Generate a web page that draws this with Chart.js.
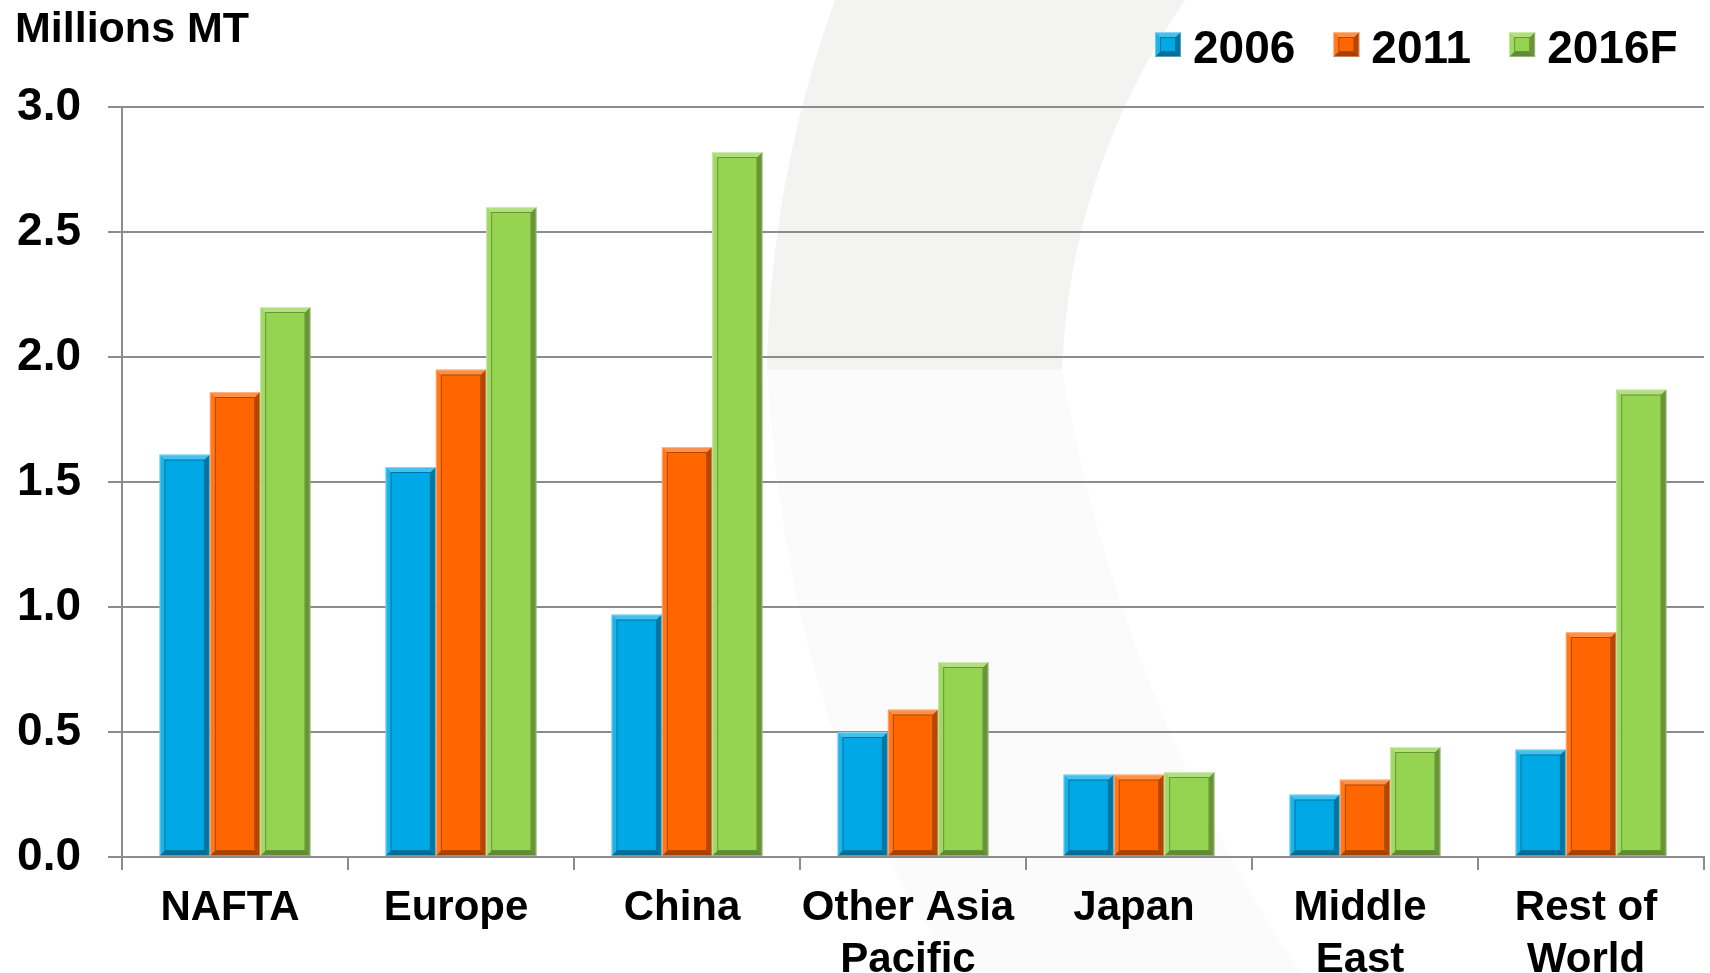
<!DOCTYPE html>
<html>
<head>
<meta charset="utf-8">
<script src="https://cdn.jsdelivr.net/npm/chart.js@4.4.0/dist/chart.umd.min.js"></script>
<style>
  html, body { margin: 0; padding: 0; background: #fff; }
  #wrap { width: 1710px; height: 973px; }
</style>
</head>
<body>
<div id="wrap"><canvas id="regionChart" width="1710" height="973"></canvas></div>
<script>
// data (millions of metric tons)
const regions = [['NAFTA'], ['Europe'], ['China'], ['Other Asia', 'Pacific'], ['Japan'], ['Middle', 'East'], ['Rest of', 'World']];
const seriesNames = ['2006', '2011', '2016F'];
const values2006 = [1.61, 1.56, 0.97, 0.50, 0.33, 0.25, 0.43];
const values2011 = [1.86, 1.95, 1.64, 0.59, 0.33, 0.31, 0.90];
const values2016F = [2.20, 2.60, 2.82, 0.78, 0.34, 0.44, 1.87];
const yTickValues = [0, 0.5, 1.0, 1.5, 2.0, 2.5, 3.0];
const unitLabel = 'Millions MT';

const FONT = '"Liberation Sans", Arial, Helvetica, sans-serif';
const gridColor = '#8c8c8c';

Chart.defaults.font.family = FONT;

function poly(ctx, pts, fill) {
    ctx.beginPath();
    ctx.moveTo(pts[0][0], pts[0][1]);
    for (let i = 1; i < pts.length; i++) ctx.lineTo(pts[i][0], pts[i][1]);
    ctx.closePath();
    ctx.fillStyle = fill;
    ctx.fill();
}

// fake the bevelled look of the original bars
function drawBevel(ctx, l, t, r, b, d) {
    if (b - t < 2 * d + 2) return;
    poly(ctx, [[l, t], [r, t], [r - d, t + d], [l + d, t + d]], 'rgba(255,255,255,0.28)');
    poly(ctx, [[l, t], [l + d, t + d], [l + d, b - d], [l, b]], 'rgba(255,255,255,0.12)');
    poly(ctx, [[r, t], [r, b], [r - d, b - d], [r - d, t + d]], 'rgba(0,0,0,0.30)');
    poly(ctx, [[l, b], [r, b], [r - d, b - d], [l + d, b - d]], 'rgba(0,0,0,0.35)');
    ctx.lineWidth = 1;
    ctx.strokeStyle = 'rgba(0,0,0,0.30)';
    ctx.strokeRect(l + d + 0.5, t + d + 0.5, r - l - 2 * d - 1, b - t - 2 * d - 1);
    ctx.strokeStyle = 'rgba(255,255,255,0.35)';
    ctx.strokeRect(l + 0.5, t + 0.5, r - l - 1, b - t - 1);
}

const backdrop = {
    id: 'backdrop',
    beforeDraw(chart) {
        const ctx = chart.ctx;
        ctx.save();
        ctx.fillStyle = '#fff';
        ctx.fillRect(0, 0, chart.width, chart.height);
        // faint swoosh watermark
        ctx.beginPath();
        ctx.moveTo(767, 370);
        ctx.quadraticCurveTo(790, 750, 960, 973);
        ctx.lineTo(1300, 973);
        ctx.quadraticCurveTo(1120, 700, 1062, 370);
        ctx.closePath();
        ctx.fillStyle = '#fbfbfb';
        ctx.fill();
        ctx.beginPath();
        ctx.moveTo(835, 0);
        ctx.quadraticCurveTo(770, 180, 767, 370);
        ctx.lineTo(1062, 370);
        ctx.quadraticCurveTo(1070, 170, 1185, 0);
        ctx.closePath();
        ctx.fillStyle = '#f3f3f2';
        ctx.fill();
        ctx.restore();
    }
};

const bevels = {
    id: 'bevels',
    afterDatasetsDraw(chart) {
        const ctx = chart.ctx;
        ctx.save();
        chart.data.datasets.forEach((ds, i) => {
            chart.getDatasetMeta(i).data.forEach(bar => {
                const p = bar.getProps(['x', 'y', 'base', 'width'], true);
                drawBevel(ctx, p.x - p.width / 2, p.y, p.x + p.width / 2, p.base, 5);
            });
        });
        ctx.restore();
    }
};

const headerLegend = {
    id: 'headerLegend',
    afterDraw(chart) {
        const ctx = chart.ctx;
        ctx.save();
        ctx.fillStyle = '#000';
        ctx.textAlign = 'left';
        ctx.textBaseline = 'alphabetic';
        ctx.font = 'bold 43px ' + FONT;
        ctx.fillText(unitLabel, 15, 42);

        ctx.font = 'bold 46px ' + FONT;
        let x = 1155;
        chart.data.datasets.forEach(ds => {
            ctx.fillStyle = ds.backgroundColor;
            ctx.fillRect(x, 32, 26, 25);
            drawBevel(ctx, x, 32, x + 26, 57, 5);
            ctx.fillStyle = '#000';
            ctx.fillText(ds.label, x + 38, 63);
            x += 38 + ctx.measureText(ds.label).width + 38;
        });
        ctx.restore();
    }
};

new Chart(document.getElementById('regionChart').getContext('2d'), {
    type: 'bar',
    data: {
        labels: regions,
        datasets: [
            { label: seriesNames[0], data: values2006, backgroundColor: '#00a8e6' },
            { label: seriesNames[1], data: values2011, backgroundColor: '#ff6600' },
            { label: seriesNames[2], data: values2016F, backgroundColor: '#95d450' }
        ]
    },
    options: {
        responsive: false,
        animation: false,
        devicePixelRatio: 1,
        layout: { padding: { top: 107, right: 6, left: 0, bottom: 0 } },
        datasets: {
            bar: { categoryPercentage: 0.668, barPercentage: 1.0, borderWidth: 0 }
        },
        plugins: {
            legend: { display: false },
            tooltip: { enabled: false }
        },
        scales: {
            x: {
                afterFit: s => { s.height = 116; },
                ticks: {
                    color: '#000',
                    font: { size: 42, weight: 'bold', lineHeight: 1.24 },
                    padding: 12,
                    labelOffset: -5,
                    maxRotation: 0,
                    autoSkip: false
                },
                grid: { drawOnChartArea: false, color: gridColor, lineWidth: 2, tickLength: 13, offset: true },
                border: { color: gridColor, width: 2 }
            },
            y: {
                min: 0,
                max: 3,
                afterBuildTicks: s => { s.ticks = yTickValues.map(v => ({ value: v })); },
                afterFit: s => { s.width = 122; },
                ticks: {
                    color: '#000',
                    font: { size: 46, weight: 'bold' },
                    padding: 27,
                    callback: v => Number(v).toFixed(1)
                },
                grid: { color: gridColor, lineWidth: 2, tickLength: 14 },
                border: { color: gridColor, width: 2 }
            }
        }
    },
    plugins: [backdrop, bevels, headerLegend]
});
</script>
</body>
</html>
